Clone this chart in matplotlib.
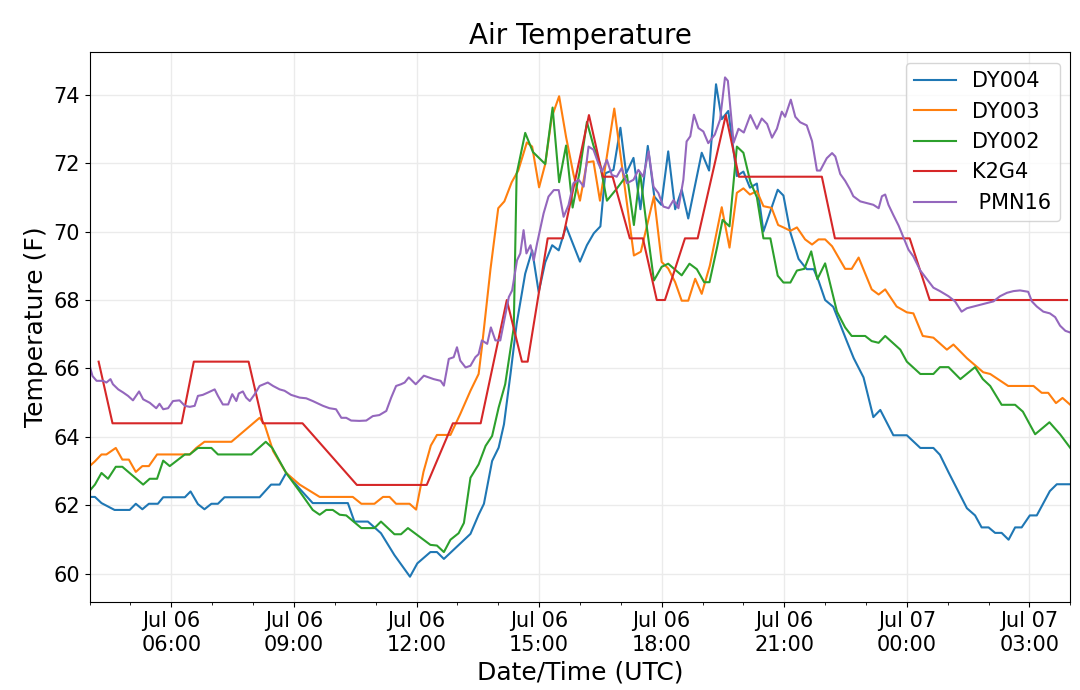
import matplotlib
matplotlib.use("Agg")
from matplotlib import pyplot as plt
import matplotlib.dates as mdates
import pandas as pd

# hours after Jul 06 00:00 UTC, temperature in F
dy004_hours = [4.0, 4.13, 4.29, 4.61, 4.98, 5.13, 5.29, 5.45, 5.67, 5.8, 6.33, 6.47, 6.65, 6.81, 6.98, 7.14, 7.3,
               8.16, 8.44, 8.65, 8.81, 9.13, 9.46, 10.32, 10.48, 10.81, 11.13, 11.46, 11.84, 12.02, 12.34, 12.5,
               12.67, 13.32, 13.52, 13.65, 13.85, 14.01, 14.14, 14.3, 14.45, 14.66, 14.83, 14.99, 15.15, 15.32,
               15.48, 15.66, 16.0, 16.17, 16.34, 16.5, 16.62, 16.82, 16.99, 17.13, 17.31, 17.48, 17.66, 17.82,
               17.99, 18.16, 18.33, 18.49, 18.65, 18.98, 19.16, 19.33, 19.47, 19.63, 19.84, 20.0, 20.16, 20.33,
               20.49, 20.84, 20.98, 21.15, 21.35, 21.55, 21.72, 21.84, 22.0, 22.2, 22.53, 22.7, 22.94, 23.18,
               23.35, 23.67, 24.0, 24.33, 24.65, 24.81, 25.02, 25.47, 25.67, 25.83, 26.0, 26.16, 26.32, 26.49,
               26.65, 26.81, 27.01, 27.18, 27.5, 27.67, 28.0]
dy004_temp = [62.25, 62.25, 62.07, 61.87, 61.87, 62.05, 61.89, 62.05, 62.05, 62.24, 62.24, 62.41, 62.04, 61.89,
              62.05, 62.05, 62.24, 62.24, 62.61, 62.61, 62.95, 62.5, 62.07, 62.07, 61.53, 61.53, 61.19, 60.55,
              59.92, 60.31, 60.64, 60.64, 60.44, 61.17, 61.73, 62.05, 63.3, 63.69, 64.37, 65.84, 67.3, 68.77,
              69.45, 68.23, 69.1, 69.6, 69.45, 70.15, 69.12, 69.6, 69.95, 70.15, 71.7, 71.8, 73.03, 71.7, 72.15,
              70.65, 72.5, 71.02, 70.78, 72.34, 70.65, 71.22, 70.38, 72.3, 71.78, 74.3, 73.28, 73.52, 71.62,
              71.75, 71.28, 71.4, 70.0, 71.22, 71.05, 69.97, 69.2, 68.9, 68.9, 68.56, 68.0, 67.8, 66.8, 66.3,
              65.74, 64.58, 64.79, 64.05, 64.05, 63.68, 63.68, 63.48, 62.97, 61.92, 61.71, 61.36, 61.36, 61.2,
              61.2, 61.0, 61.36, 61.36, 61.71, 61.71, 62.42, 62.62, 62.62]

dy003_hours = [4.0, 4.13, 4.29, 4.41, 4.64, 4.8, 4.96, 5.13, 5.29, 5.45, 5.65, 6.45, 6.61, 6.81, 7.47, 8.16, 8.28,
               8.49, 8.81, 9.14, 9.63, 10.44, 10.65, 10.97, 11.18, 11.34, 11.5, 11.83, 11.99, 12.17, 12.35, 12.5,
               12.83, 13.07, 13.32, 13.52, 13.6, 13.81, 14.0, 14.15, 14.33, 14.49, 14.7, 14.83, 15.0, 15.15, 15.31,
               15.49, 15.66, 15.84, 16.0, 16.17, 16.33, 16.49, 16.84, 17.32, 17.49, 17.81, 18.0, 18.16, 18.33,
               18.49, 18.65, 18.82, 18.98, 19.18, 19.47, 19.66, 19.84, 20.0, 20.16, 20.33, 20.49, 20.69, 20.85,
               20.98, 21.15, 21.31, 21.51, 21.68, 21.84, 22.0, 22.17, 22.49, 22.65, 22.82, 23.14, 23.31, 23.47,
               23.75, 24.0, 24.16, 24.39, 24.65, 24.98, 25.14, 25.47, 25.87, 26.04, 26.48, 27.1, 27.3, 27.46,
               27.65, 27.81, 28.0]
dy003_temp = [63.15, 63.29, 63.49, 63.49, 63.68, 63.34, 63.34, 62.98, 63.15, 63.15, 63.49, 63.49, 63.68, 63.86,
              63.86, 64.56, 64.37, 63.59, 62.95, 62.61, 62.25, 62.25, 62.05, 62.05, 62.25, 62.25, 62.05, 62.05,
              61.88, 62.98, 63.75, 64.06, 64.06, 64.67, 65.35, 65.84, 66.62, 68.9, 70.68, 70.88, 71.44, 71.78,
              72.6, 72.48, 71.29, 71.97, 73.34, 73.95, 72.76, 71.68, 70.9, 72.02, 72.05, 70.9, 73.59, 69.3, 69.41,
              71.03, 69.11, 68.92, 68.52, 67.98, 67.98, 68.62, 68.18, 69.01, 70.71, 69.53, 71.13, 71.26, 71.08,
              71.18, 70.74, 70.69, 70.19, 70.12, 70.02, 70.12, 69.77, 69.62, 69.77, 69.77, 69.57, 68.91, 68.91,
              69.24, 68.31, 68.16, 68.31, 67.81, 67.64, 67.61, 66.95, 66.9, 66.55, 66.7, 66.3, 65.89, 65.84,
              65.49, 65.49, 65.29, 65.29, 64.99, 65.14, 64.94]

dy002_hours = [4.0, 4.13, 4.29, 4.45, 4.64, 4.8, 5.31, 5.47, 5.65, 5.8, 5.96, 6.33, 6.45, 6.65, 6.98, 7.14, 7.96,
               8.31, 8.47, 8.81, 9.14, 9.46, 9.63, 9.79, 9.95, 10.12, 10.28, 10.65, 10.97, 11.13, 11.46, 11.62,
               11.79, 12.34, 12.5, 12.67, 12.83, 13.03, 13.16, 13.32, 13.52, 13.69, 13.85, 14.01, 14.17, 14.38,
               14.45, 14.66, 14.85, 15.15, 15.33, 15.49, 15.66, 15.82, 15.99, 16.17, 16.33, 16.49, 16.66, 16.9,
               17.15, 17.32, 17.47, 17.63, 17.81, 18.0, 18.16, 18.49, 18.68, 18.86, 19.04, 19.17, 19.36, 19.49,
               19.66, 19.84, 20.0, 20.17, 20.33, 20.49, 20.66, 20.84, 20.98, 21.15, 21.31, 21.49, 21.66, 21.81,
               22.0, 22.29, 22.49, 22.65, 22.98, 23.14, 23.31, 23.47, 23.84, 24.0, 24.33, 24.65, 24.81, 25.02,
               25.31, 25.67, 25.86, 26.04, 26.32, 26.65, 26.84, 27.14, 27.49, 27.75, 28.0]
dy002_temp = [62.43, 62.61, 62.95, 62.78, 63.13, 63.13, 62.61, 62.78, 62.78, 63.31, 63.15, 63.49, 63.49, 63.68,
              63.68, 63.49, 63.49, 63.86, 63.68, 62.95, 62.41, 61.87, 61.73, 61.87, 61.87, 61.73, 61.71, 61.34,
              61.34, 61.53, 61.16, 61.16, 61.34, 60.85, 60.83, 60.64, 61.0, 61.19, 61.49, 62.81, 63.2, 63.74,
              64.03, 64.86, 65.54, 67.2, 71.68, 72.88, 72.32, 71.97, 73.62, 71.44, 72.51, 70.7, 71.73, 73.2,
              72.51, 71.97, 70.9, 71.25, 71.65, 70.19, 71.72, 70.19, 68.57, 68.97, 69.06, 68.72, 69.06, 68.9,
              68.52, 68.52, 69.56, 70.34, 70.15, 72.48, 72.3, 71.45, 71.0, 69.8, 69.8, 68.71, 68.51, 68.51, 68.86,
              68.91, 69.42, 68.61, 69.07, 67.66, 67.2, 66.95, 66.95, 66.8, 66.75, 66.95, 66.55, 66.2, 65.84,
              65.84, 66.04, 66.04, 65.69, 66.04, 65.69, 65.49, 64.94, 64.94, 64.74, 64.08, 64.43, 64.08, 63.68]

k2g4_hours = [4.22, 4.56, 6.25, 6.55, 7.89, 8.24, 9.21, 10.54, 12.25, 12.89, 13.57, 14.21, 14.58, 14.72, 15.21,
              15.58, 16.22, 16.56, 16.8, 17.22, 17.54, 17.88, 18.08, 18.57, 18.88, 19.57, 19.89, 21.92, 22.24,
              24.07, 24.56, 27.92]
k2g4_temp = [66.2, 64.4, 64.4, 66.2, 66.2, 64.4, 64.4, 62.6, 62.6, 64.4, 64.4, 68.0, 66.2, 66.2, 69.8, 69.8,
             73.4, 71.6, 71.6, 69.8, 69.8, 68.0, 68.0, 69.8, 69.8, 73.4, 71.6, 71.6, 69.8, 69.8, 68.0, 68.0]

pmn16_hours = [4.0, 4.07, 4.17, 4.33, 4.41, 4.51, 4.57, 4.7, 4.82, 4.94, 5.06, 5.21, 5.31, 5.47, 5.63, 5.71, 5.8,
               5.92, 6.04, 6.2, 6.33, 6.45, 6.57, 6.65, 6.77, 6.9, 7.06, 7.14, 7.26, 7.39, 7.49, 7.59, 7.65, 7.75,
               7.83, 7.92, 8.04, 8.16, 8.36, 8.49, 8.65, 8.77, 8.93, 9.14, 9.3, 9.46, 9.71, 9.87, 10.03, 10.16,
               10.28, 10.4, 10.6, 10.77, 10.93, 11.09, 11.26, 11.38, 11.5, 11.62, 11.71, 11.81, 11.98, 12.18,
               12.42, 12.59, 12.67, 12.79, 12.91, 12.99, 13.07, 13.2, 13.32, 13.44, 13.52, 13.6, 13.73, 13.82,
               13.93, 14.05, 14.13, 14.26, 14.34, 14.46, 14.54, 14.62, 14.69, 14.79, 14.87, 14.95, 15.11, 15.23,
               15.36, 15.48, 15.6, 15.72, 15.84, 15.97, 16.09, 16.21, 16.33, 16.45, 16.54, 16.66, 16.78, 16.9,
               17.02, 17.15, 17.31, 17.43, 17.55, 17.68, 17.8, 17.92, 18.04, 18.17, 18.29, 18.41, 18.53, 18.61,
               18.7, 18.79, 18.9, 19.02, 19.14, 19.3, 19.43, 19.55, 19.62, 19.7, 19.76, 19.88, 20.01, 20.17,
               20.33, 20.45, 20.58, 20.7, 20.82, 20.94, 21.02, 21.16, 21.27, 21.39, 21.55, 21.68, 21.8, 21.88,
               22.04, 22.17, 22.25, 22.37, 22.49, 22.61, 22.69, 22.86, 23.02, 23.18, 23.31, 23.39, 23.47, 23.55,
               23.67, 23.8, 23.92, 24.04, 24.16, 24.33, 24.49, 24.65, 24.81, 25.02, 25.18, 25.34, 25.47, 25.63,
               25.8, 25.96, 26.12, 26.28, 26.45, 26.61, 26.77, 26.97, 27.06, 27.18, 27.34, 27.5, 27.63, 27.75,
               27.88, 28.0]
pmn16_temp = [66.08, 65.78, 65.64, 65.64, 65.59, 65.69, 65.54, 65.39, 65.3, 65.2, 65.07, 65.33, 65.1, 65.0,
              64.84, 64.97, 64.81, 64.84, 65.05, 65.07, 64.91, 64.88, 64.91, 65.2, 65.23, 65.3, 65.39, 65.2, 64.95,
              64.95, 65.25, 65.05, 65.27, 65.33, 65.15, 65.05, 65.25, 65.49, 65.59, 65.49, 65.39, 65.35, 65.23,
              65.15, 65.13, 65.05, 64.91, 64.84, 64.81, 64.56, 64.56, 64.48, 64.47, 64.48, 64.61, 64.64, 64.76,
              65.15, 65.49, 65.54, 65.59, 65.74, 65.54, 65.79, 65.69, 65.64, 65.5, 66.28, 66.33, 66.62, 66.23,
              66.03, 66.08, 66.33, 66.42, 66.82, 66.72, 67.2, 66.82, 66.82, 67.3, 68.09, 68.28, 69.16, 69.36,
              70.04, 69.36, 69.6, 69.16, 69.65, 70.53, 71.02, 71.21, 71.21, 70.43, 70.77, 71.41, 71.51, 71.31,
              72.48, 72.39, 71.99, 71.75, 72.09, 71.65, 71.6, 71.85, 71.41, 71.51, 71.8, 71.6, 72.34, 71.31,
              71.12, 70.73, 70.68, 70.92, 70.68, 71.51, 72.63, 72.78, 73.41, 73.02, 72.92, 72.58, 72.83, 73.27,
              74.5, 74.4, 73.35, 72.59, 73.0, 72.89, 73.4, 73.0, 73.3, 73.14, 72.74, 73.0, 73.5, 73.35, 73.85,
              73.35, 73.19, 73.1, 72.64, 71.78, 71.78, 72.14, 72.29, 72.19, 71.68, 71.48, 71.23, 71.03, 70.88,
              70.83, 70.78, 70.68, 71.03, 71.08, 70.78, 70.48, 70.17, 69.82, 69.47, 69.27, 68.86, 68.61, 68.36,
              68.26, 68.11, 67.96, 67.66, 67.76, 67.81, 67.86, 67.91, 67.96, 68.11, 68.21, 68.26, 68.28, 68.24,
              67.96, 67.81, 67.66, 67.61, 67.5, 67.25, 67.1, 67.05]

series = [("DY004", dy004_hours, dy004_temp),
          ("DY003", dy003_hours, dy003_temp),
          ("DY002", dy002_hours, dy002_temp),
          ("K2G4", k2g4_hours, k2g4_temp),
          (" PMN16", pmn16_hours, pmn16_temp)]

start = pd.Timestamp("2019-07-06 00:00")


def to_times(hours):
    return start + pd.to_timedelta(hours, unit="h")


fig = plt.figure(figsize=(10.8, 6.9), dpi=100)
ax = fig.add_axes([0.083, 0.128, 0.908, 0.796])

for name, hours, temp in series:
    ax.plot(to_times(hours), temp, label=name, linewidth=1.5)

ax.margins(x=0)
ax.xaxis.set_major_locator(mdates.HourLocator(byhour=range(0, 24, 3)))
ax.xaxis.set_minor_locator(mdates.HourLocator())
ax.xaxis.set_major_formatter(mdates.DateFormatter("%b %d\n%H:%M"))
ax.tick_params(axis="both", which="major", labelsize=15)
for lbl in ax.get_xticklabels():
    lbl.set_horizontalalignment("center")

ax.grid(True, color="#ebebeb", linewidth=1.0)
ax.set_axisbelow(True)

ax.set_title("Air Temperature", fontsize=20)
ax.set_xlabel("Date/Time (UTC)", fontsize=18)
ax.set_ylabel("Temperature (F)", fontsize=18)
ax.legend(loc="upper right", fontsize=15)

fig.savefig("out.png", dpi=100)
